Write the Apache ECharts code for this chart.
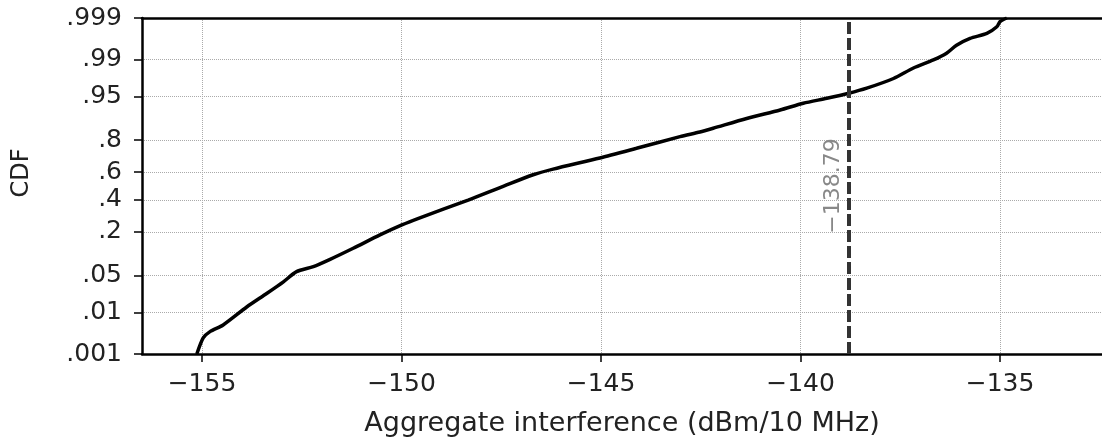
<!DOCTYPE html>
<html>
<head>
<meta charset="utf-8">
<script src="https://cdn.jsdelivr.net/npm/echarts@6/dist/echarts.min.js"></script>
<style>
  html, body { margin: 0; padding: 0; background: #fff; }
  #chart { width: 1102px; height: 442px; }
</style>
</head>
<body>
<div id="chart"></div>
<script>
// Aggregate interference (dBm/10 MHz) and its empirical CDF
const interference = [-155.13, -154.97, -154.80, -154.47, -153.88, -153.38, -152.96, -152.63,
  -152.21, -151.79, -151.21, -150.54, -149.99, -149.54, -148.33, -147.50, -146.70, -146.20,
  -145.03, -144.11, -143.02, -142.52, -142.19, -141.35, -140.51, -139.93, -139.34, -138.79, -138.34,
  -137.67, -137.17, -136.67, -136.34, -136.09, -135.75, -135.33, -135.08, -135.00, -134.83];
const cdf = [0.001, 0.0026, 0.0037, 0.0053, 0.013, 0.024, 0.039, 0.0575,
  0.069, 0.0886, 0.126, 0.184, 0.237, 0.279, 0.398, 0.492, 0.582, 0.622,
  0.697, 0.756, 0.818, 0.840, 0.856, 0.893, 0.919, 0.936, 0.9466, 0.956, 0.964,
  0.976, 0.985, 0.9898, 0.9927, 0.9952, 0.9967, 0.9975, 0.9983, 0.99875, 0.999];

// 95th percentile marker
const percentile95 = -138.79;

// Axis ticks
const xTicks = [-155, -150, -145, -140, -135];
const yTickProbs = [0.001, 0.01, 0.05, 0.2, 0.4, 0.6, 0.8, 0.95, 0.99, 0.999];
const yTickLabels = ['.001', '.01', '.05', '.2', '.4', '.6', '.8', '.95', '.99', '.999'];

// Inverse standard normal CDF (Acklam) for the normal-probability y scale
function probit(p) {
  const a = [-3.969683028665376e+01, 2.209460984245205e+02, -2.759285104469687e+02,
             1.383577518672690e+02, -3.066479806614716e+01, 2.506628277459239e+00];
  const b = [-5.447609879822406e+01, 1.615858368580409e+02, -1.556989798598866e+02,
             6.680131188771972e+01, -1.328068155288572e+01];
  const c = [-7.784894002430293e-03, -3.223964580411365e-01, -2.400758277161838e+00,
             -2.549732539343734e+00, 4.374664141464968e+00, 2.938163982698783e+00];
  const d = [7.784695709041462e-03, 3.224671290700398e-01, 2.445134137142996e+00,
             3.754408661907416e+00];
  const pl = 0.02425, ph = 1 - pl;
  let q, r;
  if (p < pl) {
    q = Math.sqrt(-2 * Math.log(p));
    return (((((c[0]*q+c[1])*q+c[2])*q+c[3])*q+c[4])*q+c[5]) /
           ((((d[0]*q+d[1])*q+d[2])*q+d[3])*q+1);
  }
  if (p <= ph) {
    q = p - 0.5; r = q * q;
    return (((((a[0]*r+a[1])*r+a[2])*r+a[3])*r+a[4])*r+a[5])*q /
           (((((b[0]*r+b[1])*r+b[2])*r+b[3])*r+b[4])*r+1);
  }
  q = Math.sqrt(-2 * Math.log(1 - p));
  return -(((((c[0]*q+c[1])*q+c[2])*q+c[3])*q+c[4])*q+c[5]) /
          ((((d[0]*q+d[1])*q+d[2])*q+d[3])*q+1);
}

const yTickZ = yTickProbs.map(probit);
const zMin = probit(0.001);
const zMax = probit(0.999);
const minus = s => String(s).replace('-', '\u2212');

const FONT = 'DejaVu Sans';
const X_MIN = -156.504, X_MAX = -132.444;
const chart = echarts.init(document.getElementById('chart'), null, { renderer: 'canvas' });

chart.setOption({
  animation: false,
  backgroundColor: '#fff',
  textStyle: { fontFamily: FONT },
  grid: { left: 142, right: 0, top: 18, bottom: 88, containLabel: false },
  xAxis: [{
    type: 'value',
    min: X_MIN,
    max: X_MAX,
    name: 'Aggregate interference (dBm/10 MHz)',
    nameLocation: 'middle',
    nameGap: 56,
    nameTextStyle: { fontFamily: FONT, fontSize: 27, color: '#222' },
    axisLine: { show: true, onZero: false, lineStyle: { color: '#000', width: 2.5 } },
    axisTick: { show: true, length: 8, customValues: xTicks, lineStyle: { color: '#000', width: 1.5 } },
    axisLabel: {
      customValues: xTicks, margin: 18,
      fontFamily: FONT, fontSize: 25, color: '#222',
      formatter: v => minus(v)
    },
    splitLine: { show: true, lineStyle: { color: '#aaa', type: 'dotted', width: 1 } }
  }, {
    // plain top frame line
    type: 'value',
    position: 'top',
    min: X_MIN,
    max: X_MAX,
    axisLine: { show: true, onZero: false, lineStyle: { color: '#000', width: 2.5 } },
    axisTick: { show: false },
    axisLabel: { show: false },
    splitLine: { show: false }
  }],
  yAxis: {
    type: 'value',
    min: zMin,
    max: zMax,
    name: 'CDF',
    nameLocation: 'middle',
    nameGap: 108,
    nameTextStyle: { fontFamily: FONT, fontSize: 24, color: '#222', padding: [0, 0, 0, 26] },
    axisLine: { show: true, onZero: false, lineStyle: { color: '#000', width: 2.5 } },
    axisTick: { show: true, length: 8, customValues: yTickZ, lineStyle: { color: '#000', width: 1.5 } },
    axisLabel: {
      customValues: yTickZ, margin: 20,
      fontFamily: FONT, fontSize: 25, color: '#222',
      formatter: v => {
        let best = 0;
        yTickZ.forEach((z, i) => { if (Math.abs(z - v) < Math.abs(yTickZ[best] - v)) best = i; });
        return yTickLabels[best];
      }
    },
    splitLine: { show: true, lineStyle: { color: '#aaa', type: 'dotted', width: 1 } }
  },
  series: [{
    type: 'line',
    xAxisIndex: 0,
    data: interference.map((x, i) => [x, probit(cdf[i])]),
    showSymbol: false,
    symbol: 'none',
    smooth: 0.25,
    clip: true,
    lineStyle: { color: '#000', width: 3.5 },
    markLine: {
      silent: true,
      symbol: 'none',
      lineStyle: { color: '#333', width: 4, type: [12, 4] },
      label: {
        show: true,
        position: 'middle',
        distance: 5,
        fontFamily: FONT,
        fontSize: 22,
        color: '#888',
        formatter: p => minus(p.value.toFixed(2))
      },
      data: [{ xAxis: percentile95 }]
    }
  }]
});
</script>
</body>
</html>
